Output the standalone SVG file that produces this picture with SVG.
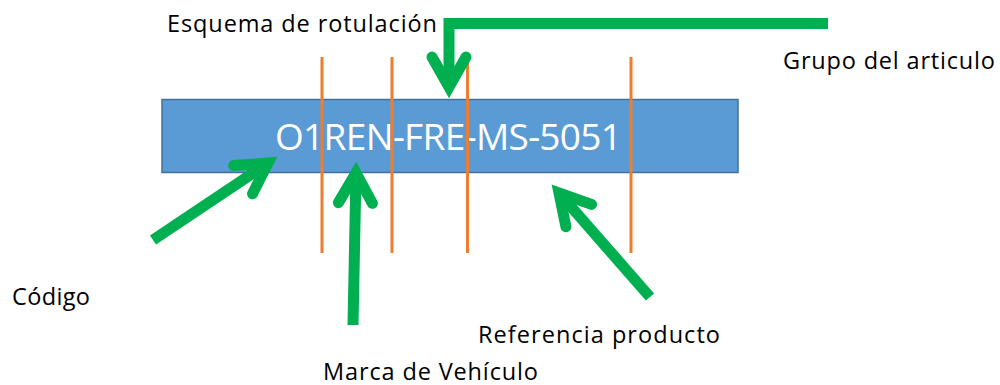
<svg xmlns="http://www.w3.org/2000/svg" width="1000" height="385" viewBox="0 0 1000 385">
  <style>
    .lbl { font-family: "Open Sans", "Noto Sans", "Liberation Sans", sans-serif; font-size: 23.5px; fill: #000; }
    .code { font-family: "Open Sans", "Noto Sans", "Liberation Sans", sans-serif; font-size: 37px; fill: #fff; }
    .div { stroke: #ED7D31; stroke-width: 3; fill: none; }
    .arrow { stroke: #00B050; stroke-width: 11; fill: none; marker-end: url(#open); }
  </style>
  <defs>
    <marker id="open" markerUnits="userSpaceOnUse" viewBox="-45 -30 60 60" refX="0" refY="0" markerWidth="60" markerHeight="60" orient="auto" overflow="visible">
      <path d="M -30 -17 L 0 0 L -30 17" fill="none" stroke="#00B050" stroke-width="11" stroke-linecap="round" stroke-linejoin="miter"/>
    </marker>
  </defs>
  <rect width="1000" height="385" fill="#fff"/>
  <g id="code-box">
    <rect x="162" y="99.5" width="576" height="73" fill="#5B9BD5" stroke="#41719C" stroke-width="1.5"/>
    <text class="code" x="275" y="150" textLength="347">O1REN-FRE-MS-5051</text>
  </g>
  <g id="dividers">
    <line class="div" x1="322" y1="57" x2="322" y2="253"/>
    <line class="div" x1="392" y1="57" x2="392" y2="253"/>
    <line class="div" x1="467.5" y1="57" x2="467.5" y2="253"/>
    <line class="div" x1="631" y1="57" x2="631" y2="253"/>
  </g>
  <g id="connectors">
    <path class="arrow" d="M 828 23.5 H 449 V 87"/>
    <line class="arrow" x1="153" y1="240" x2="268" y2="163"/>
    <line class="arrow" x1="353" y1="325" x2="356" y2="173"/>
    <line class="arrow" x1="650" y1="297" x2="559" y2="193"/>
  </g>
  <g id="label-esquema"><text class="lbl" x="167" y="32" textLength="270">Esquema de rotulación</text></g>
  <g id="label-grupo"><text class="lbl" x="783" y="69" textLength="212">Grupo del articulo</text></g>
  <g id="label-codigo"><text class="lbl" x="12" y="305" textLength="78">Código</text></g>
  <g id="label-marca"><text class="lbl" x="323" y="380" textLength="215">Marca de Vehículo</text></g>
  <g id="label-referencia"><text class="lbl" x="478" y="343" textLength="242">Referencia producto</text></g>
</svg>
